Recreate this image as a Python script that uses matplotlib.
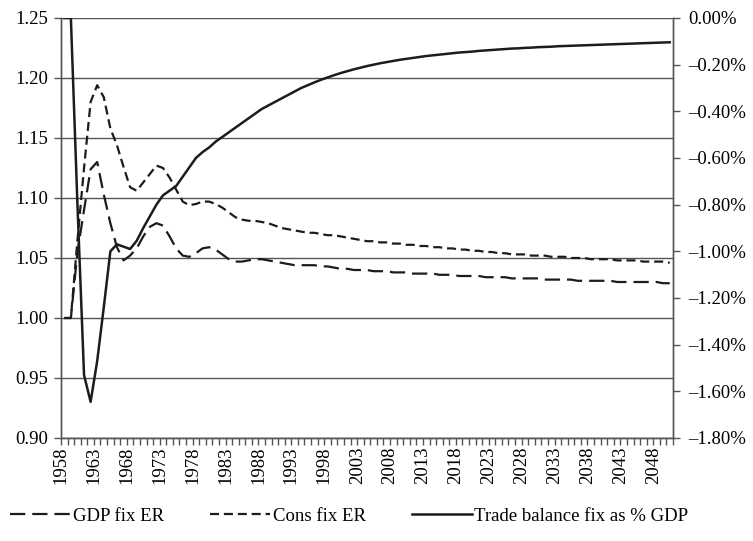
import matplotlib
matplotlib.use('Agg')
import matplotlib.pyplot as plt
import numpy as np

years = list(range(1958, 2051))

gdp_fix_er = [
    1.000, 1.000, 1.055, 1.090, 1.124, 1.130, 1.103, 1.079, 1.059, 1.048,
    1.052, 1.058, 1.068, 1.076, 1.079, 1.077, 1.068, 1.058, 1.052, 1.051,
    1.054, 1.058, 1.059, 1.057, 1.053, 1.049, 1.047, 1.047, 1.048, 1.049,
    1.049, 1.048, 1.047, 1.046, 1.045, 1.044, 1.044, 1.044, 1.044, 1.043,
    1.043, 1.042, 1.041, 1.041, 1.040, 1.040, 1.040, 1.039, 1.039, 1.039,
    1.038, 1.038, 1.038, 1.037, 1.037, 1.037, 1.037, 1.036, 1.036, 1.036,
    1.035, 1.035, 1.035, 1.035, 1.034, 1.034, 1.034, 1.034, 1.033, 1.033,
    1.033, 1.033, 1.033, 1.032, 1.032, 1.032, 1.032, 1.032, 1.031, 1.031,
    1.031, 1.031, 1.031, 1.031, 1.030, 1.030, 1.030, 1.030, 1.030, 1.030,
    1.030, 1.029, 1.029,
]

cons_fix_er = [
    1.000, 1.000, 1.065, 1.125, 1.180, 1.194, 1.184, 1.158, 1.144, 1.126,
    1.109, 1.106, 1.113, 1.120, 1.127, 1.125, 1.117, 1.107, 1.097, 1.094,
    1.095, 1.097, 1.097, 1.095, 1.092, 1.088, 1.084, 1.082, 1.081, 1.081,
    1.080, 1.079, 1.077, 1.075, 1.074, 1.073, 1.072, 1.071, 1.071, 1.070,
    1.069, 1.069, 1.068, 1.067, 1.066, 1.065, 1.064, 1.064, 1.063, 1.063,
    1.062, 1.062, 1.061, 1.061, 1.060, 1.060, 1.059, 1.059, 1.058, 1.058,
    1.057, 1.057, 1.056, 1.056, 1.055, 1.055, 1.054, 1.054, 1.053, 1.053,
    1.053, 1.052, 1.052, 1.052, 1.051, 1.051, 1.051, 1.050, 1.050, 1.050,
    1.049, 1.049, 1.049, 1.049, 1.048, 1.048, 1.048, 1.048, 1.047, 1.047,
    1.047, 1.047, 1.046,
]

trade_balance_pct = [
    0.00, 0.00, -0.80, -1.53, -1.645, -1.47, -1.24, -1.00, -0.97, -0.98,
    -0.99, -0.955, -0.90, -0.85, -0.80, -0.76, -0.74, -0.72, -0.68, -0.64,
    -0.60, -0.575, -0.555, -0.53, -0.51, -0.49, -0.47, -0.45, -0.43, -0.41,
    -0.39, -0.375, -0.36, -0.345, -0.33, -0.315, -0.30, -0.288, -0.276, -0.265,
    -0.255, -0.245, -0.236, -0.228, -0.220, -0.213, -0.206, -0.200, -0.194, -0.189,
    -0.184, -0.179, -0.175, -0.171, -0.167, -0.163, -0.160, -0.157, -0.154, -0.151,
    -0.148, -0.146, -0.144, -0.141, -0.139, -0.137, -0.135, -0.133, -0.131, -0.130,
    -0.128, -0.127, -0.125, -0.124, -0.123, -0.121, -0.120, -0.119, -0.118, -0.117,
    -0.116, -0.115, -0.114, -0.113, -0.112, -0.111, -0.110, -0.109, -0.108, -0.107,
    -0.106, -0.105, -0.104,
]

left_ticks = [0.90, 0.95, 1.00, 1.05, 1.10, 1.15, 1.20, 1.25]
right_ticks = [-1.8, -1.6, -1.4, -1.2, -1.0, -0.8, -0.6, -0.4, -0.2, 0.0]

plt.rcParams['font.family'] = ['Liberation Serif', 'DejaVu Serif']
plt.rcParams['lines.scale_dashes'] = False
FS = 13.5
line_c = '#1c1c1c'
grid_c = '#555555'

W, H = 753, 541
fig = plt.figure(figsize=(W / 100, H / 100), dpi=100)
ax = fig.add_axes([61 / W, (H - 438) / H, 612 / W, 420 / H])
ax2 = ax.twinx()

n = len(years)
x = np.arange(n) + 0.5

l1, = ax.plot(x, gdp_fix_er, color=line_c, lw=1.6, dashes=(11, 5), label='GDP fix ER', zorder=3)
l2, = ax.plot(x, cons_fix_er, color=line_c, lw=1.6, dashes=(6.5, 3.5), label='Cons fix ER', zorder=3)
l3, = ax2.plot(x, trade_balance_pct, color=line_c, lw=1.8, label='Trade balance fix as % GDP', zorder=3)

ax.set_xlim(0, n)
ax.set_ylim(0.90, 1.25)
ax.set_yticks(left_ticks)
ax.set_yticklabels([f'{v:.2f}' for v in left_ticks])
ax.grid(axis='y', color=grid_c, lw=1.0)
ax.set_axisbelow(True)

ax2.set_ylim(-1.8, 0)
ax2.set_yticks(right_ticks)
ax2.set_yticklabels([('\u2013' if v < 0 else '') + f'{abs(v):.2f}%' for v in right_ticks])

ax.set_xticks(np.arange(n + 1))
ax.set_xticklabels([str(years[i]) if (i < n and i % 5 == 0) else '' for i in range(n + 1)],
                   rotation=90, fontsize=FS)

for a in (ax, ax2):
    a.spines['top'].set_visible(False)
    for s in ('left', 'right', 'bottom'):
        a.spines[s].set_color(grid_c)
        a.spines[s].set_linewidth(1.0)
    a.tick_params(colors=grid_c, labelcolor='black', labelsize=FS, width=1.0, length=5, direction='out')

ax.tick_params(axis='x', pad=1)
ax.tick_params(axis='y', pad=4)
ax2.tick_params(axis='y', pad=6)

fig.legend(handles=[l1, l2, l3], loc='center left', bbox_to_anchor=(10 / W, 0.046),
           ncol=3, frameon=False, fontsize=FS, handlelength=3.2, handletextpad=0.15,
           columnspacing=2.45, borderaxespad=0, borderpad=0)

fig.savefig('out.png', dpi=100)
